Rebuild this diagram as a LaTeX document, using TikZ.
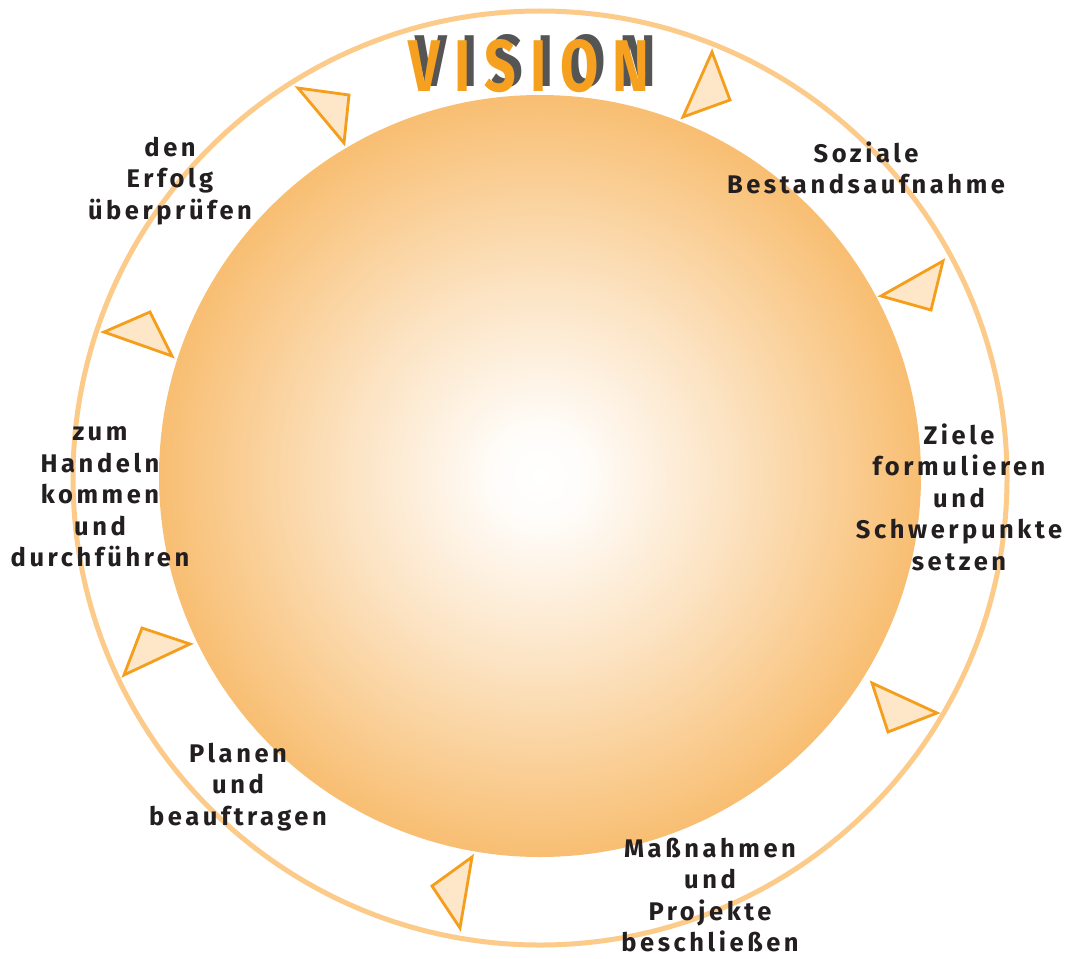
\documentclass[tikz,border=0pt]{standalone}
\usepackage{fontspec}
\setmainfont{Fira Sans}
\newfontfamily\lblfont[LetterSpace=14]{Fira Sans}
\newfontfamily\visfont[LetterSpace=25]{Fira Sans}
\definecolor{ringc}{HTML}{FCCB8A}
\definecolor{sunc}{HTML}{F8BE72}
\definecolor{trifill}{HTML}{FEE6C8}
\definecolor{tridraw}{HTML}{F59E1B}
\definecolor{txtc}{HTML}{231F20}
\definecolor{visorange}{HTML}{F5A01E}
\definecolor{visgray}{HTML}{555555}
\pgfdeclareradialshading{sunshade}{\pgfpoint{0bp}{0bp}}{color(0bp)=(white); color(3bp)=(white!96!sunc); color(13bp)=(white!55!sunc); color(25bp)=(sunc); color(50bp)=(sunc)}
\tikzset{
  lbl/.style={text=txtc, font=\lblfont\bfseries\fontsize{25.5}{31.5}\selectfont, align=center, inner sep=0pt},
  tri/.style={draw=tridraw, fill=trifill, line width=2.8pt, line join=miter},
}
\begin{document}
\begin{tikzpicture}[x=1pt,y=-1pt]
\useasboundingbox (0,0) rectangle (1067,958);
\fill[white] (0,0) rectangle (1067,958);
% outer ring
\node[circle, draw=ringc, line width=5pt, minimum size=934pt, inner sep=0pt] (ring) at (540,478) {};
% sun
\node[circle, shading=sunshade, minimum size=762pt, inner sep=0pt] (sun) at (540,476) {};
% triangles
\draw[tri] (298,88) -- (349,95) -- (344,143) -- cycle;
\draw[tri] (712,52) -- (730,100) -- (683,117) -- cycle;
\draw[tri] (943,261) -- (931,310) -- (881,296) -- cycle;
\draw[tri] (872,683) -- (937,713) -- (888,732) -- cycle;
\draw[tri] (472,857) -- (460,928) -- (432,886) -- cycle;
\draw[tri] (142,628) -- (190,644) -- (124,675) -- cycle;
\draw[tri] (104,332) -- (150,312) -- (172,356) -- cycle;
% title
\node[inner sep=0pt, text=visgray] (visg) at (536,61) {\resizebox{240pt}{52pt}{\visfont\bfseries VISION}};
\node[inner sep=0pt, text=visorange] (vis) at (529,66) {\resizebox{240pt}{52pt}{\visfont\bfseries VISION}};
% labels
\node[lbl] (l1) at (170,181) {den\\Erfolg\\überprüfen};
\node[lbl] (l2) at (866,168) {Soziale\\Bestandsaufnahme};
\node[lbl] (l3) at (959,497) {Ziele\\formulieren\\und\\Schwerpunkte\\setzen};
\node[lbl] (l4) at (710,895) {Maßnahmen\\und\\Projekte\\beschließen};
\node[lbl] (l5) at (238,787) {Planen\\und\\beauftragen};
\node[lbl] (l6) at (100,497) {zum\\Handeln\\kommen\\und\\durchführen};
\end{tikzpicture}
\end{document}
